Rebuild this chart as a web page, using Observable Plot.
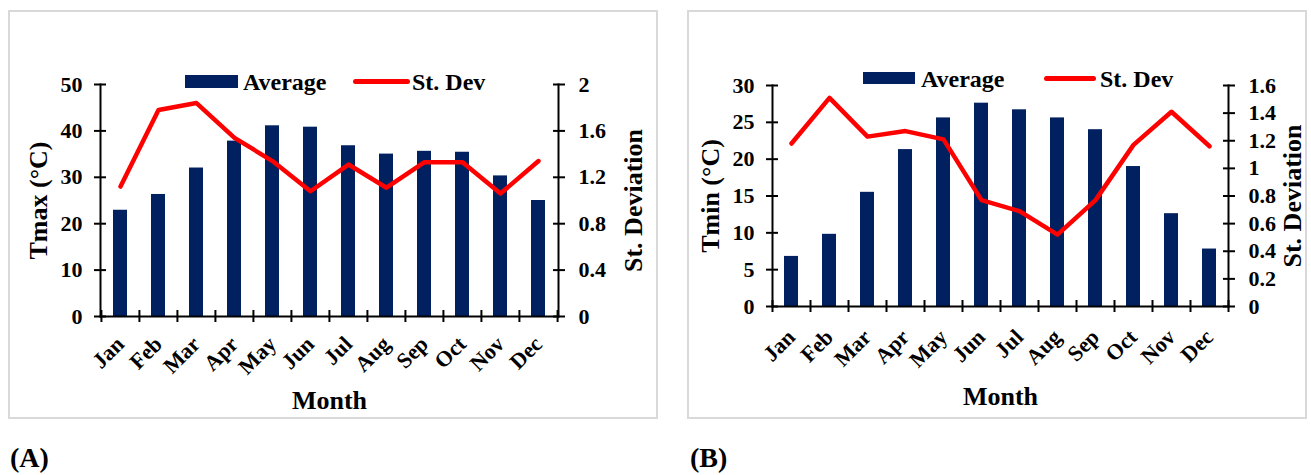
<!DOCTYPE html>
<html>
<head>
<meta charset="utf-8">
<script src="https://cdn.jsdelivr.net/npm/d3@7"></script>
<script src="https://cdn.jsdelivr.net/npm/@observablehq/plot@0.6"></script>
<style>
  html, body { margin: 0; padding: 0; background: #fff; }
  body { position: relative; width: 1311px; height: 475px; overflow: hidden;
         font-family: "Liberation Serif", "Times New Roman", serif; font-weight: bold; color: #000; }
  .panel { position: absolute; border: 2px solid #d9d9d9; box-sizing: border-box; }
  .layer { position: absolute; top: 0; }
  .lg { position: absolute; line-height: 1; font-size: 24px; white-space: nowrap; }
  .sw { position: absolute; }
  .tag { position: absolute; font-size: 28px; line-height: 1; }
</style>
</head>
<body>
<script>
// ---- data ----
const months = ["Jan","Feb","Mar","Apr","May","Jun","Jul","Aug","Sep","Oct","Nov","Dec"];
const tmaxAverage = [22.9, 26.3, 32.0, 37.8, 41.1, 40.8, 36.8, 35.0, 35.6, 35.4, 30.3, 25.0];
const tmaxStDev   = [1.12, 1.78, 1.84, 1.54, 1.34, 1.08, 1.31, 1.11, 1.33, 1.33, 1.06, 1.34];
const tminAverage = [6.8, 9.8, 15.5, 21.3, 25.6, 27.6, 26.7, 25.6, 24.0, 19.0, 12.6, 7.8];
const tminStDev   = [1.18, 1.51, 1.23, 1.27, 1.21, 0.77, 0.69, 0.52, 0.77, 1.17, 1.41, 1.16];
const tmaxTicks   = [0, 10, 20, 30, 40, 50];
const tmaxSdTicks = [0, 0.4, 0.8, 1.2, 1.6, 2];
const tminTicks   = [0, 5, 10, 15, 20, 25, 30];
const tminSdTicks = [0, 0.2, 0.4, 0.6, 0.8, 1, 1.2, 1.4, 1.6];
const seriesNames = ["Average", "St. Dev"];
const axisTitles = {month: "Month", sd: "St. Deviation", tmax: "Tmax (°C)", tmin: "Tmin (°C)"};
const panelTags = ["(A)", "(B)"];

const NAVY = "#002060", RED = "#ff0000";

function el(tag, cls, css, text) {
  const e = document.createElement(tag);
  if (cls) e.className = cls;
  Object.assign(e.style, css || {});
  if (text != null) e.textContent = text;
  document.body.appendChild(e);
  return e;
}

function panel(cfg) {
  const data = months.map((m, i) => ({month: m, avg: cfg.avg[i], sd: cfg.sd[i]}));
  const plotW = cfg.width - cfg.ml - cfg.mr;
  const slot = plotW / months.length;
  const common = {
    width: cfg.width, height: cfg.height,
    marginLeft: cfg.ml, marginRight: cfg.mr, marginTop: cfg.mt, marginBottom: cfg.mb,
    style: {fontFamily: "'Liberation Serif', 'Times New Roman', serif", fontWeight: "bold",
            fontSize: "22px", color: "#000", background: "transparent", overflow: "visible"}
  };
  const base = Plot.plot({
    ...common,
    x: {type: "band", domain: months, paddingInner: 0.62, paddingOuter: 0.31, axis: null},
    y: {domain: cfg.yDomain, axis: null},
    marks: [
      Plot.barY(data, {x: "month", y: "avg", fill: NAVY}),
      Plot.frame({anchor: "left", strokeWidth: 2}),
      Plot.frame({anchor: "bottom", strokeWidth: 2}),
      Plot.axisY(cfg.yTicks, {anchor: "left", tickSize: 12, dx: 6, fill: "none", strokeWidth: 2, label: null}),
      Plot.axisY(cfg.yTicks, {anchor: "left", tickSize: 0, tickPadding: 18, fontSize: 22, label: null, tickFormat: d3.format("~g")}),
      Plot.axisX(months, {anchor: "bottom", tickSize: 12, dy: -6, dx: -slot / 2, fill: "none", strokeWidth: 2, label: null}),
      Plot.axisX([months[months.length - 1]], {anchor: "bottom", tickSize: 12, dy: -6, dx: slot / 2, fill: "none", strokeWidth: 2, label: null}),
      Plot.text(months, {x: d => d, text: d => d, frameAnchor: "bottom", rotate: -45, textAnchor: "end",
                         lineAnchor: "bottom", dx: 5, dy: cfg.labelDy, fontSize: 22}),
      Plot.text([axisTitles.month], {text: d => d, frameAnchor: "bottom", dy: cfg.monthDy, textAnchor: "middle", lineAnchor: "middle", fontSize: 26}),
      Plot.text([cfg.yTitle], {text: d => d, frameAnchor: "left", dx: -62, rotate: -90, textAnchor: "middle", lineAnchor: "middle", fontSize: 26})
    ]
  });
  const over = Plot.plot({
    ...common,
    x: {type: "point", domain: months, padding: 0.5, axis: null},
    y: {domain: cfg.sdDomain, axis: null},
    marks: [
      Plot.frame({anchor: "right", strokeWidth: 2}),
      Plot.axisY(cfg.sdTicks, {anchor: "right", tickSize: 12, dx: -6, fill: "none", strokeWidth: 2, label: null}),
      Plot.axisY(cfg.sdTicks, {anchor: "right", tickSize: 0, tickPadding: 20, fontSize: 22, label: null, tickFormat: d3.format("~g")}),
      Plot.lineY(data, {x: "month", y: "sd", stroke: RED, strokeWidth: 4.5, strokeLinejoin: "round", strokeLinecap: "round"}),
      Plot.text([axisTitles.sd], {text: d => d, frameAnchor: "right", dx: cfg.rightTitleDx, rotate: -90, textAnchor: "middle", lineAnchor: "middle", fontSize: 26})
    ]
  });
  for (const svg of [base, over]) {
    svg.classList.add("layer");
    svg.style.left = cfg.left + "px";
    svg.style.position = "absolute";
    svg.style.top = "0px";
    document.body.appendChild(svg);
  }
  // legend
  const L = cfg.legend;
  el("div", "sw", {left: L.rectX + "px", top: (L.cy - L.rectH / 2) + "px", width: L.rectW + "px", height: L.rectH + "px", background: NAVY});
  el("div", "lg", {left: L.text1X + "px", top: (L.baseline - 20) + "px"}, seriesNames[0]);
  el("div", "sw", {left: L.lineX + "px", top: (L.cy - 2.5) + "px", width: L.lineW + "px", height: "5px", background: RED, borderRadius: "3px"});
  el("div", "lg", {left: L.text2X + "px", top: (L.baseline - 20) + "px"}, seriesNames[1]);
  // tag
  el("div", "tag", {left: cfg.tagX + "px", top: "444px"}, cfg.tag);
}

el("div", "panel", {left: "8px", top: "10px", width: "650px", height: "409px"});
el("div", "panel", {left: "687px", top: "10px", width: "620px", height: "409px"});

panel({
  left: 0, width: 660, height: 418, ml: 100, mr: 102, mt: 84, mb: 102,
  avg: tmaxAverage, sd: tmaxStDev, yDomain: [0, 50], yTicks: tmaxTicks,
  sdDomain: [0, 2], sdTicks: tmaxSdTicks, yTitle: axisTitles.tmax,
  rightTitleDx: 75, monthDy: 84, labelDy: 29,
  legend: {rectX: 185, rectW: 53, rectH: 13, cy: 81.5, text1X: 243, lineX: 353, lineW: 57, text2X: 412, baseline: 90},
  tag: panelTags[0], tagX: 10
});
panel({
  left: 680, width: 631, height: 418, ml: 92, mr: 83, mt: 85, mb: 112,
  avg: tminAverage, sd: tminStDev, yDomain: [0, 30], yTicks: tminTicks,
  sdDomain: [0, 1.6], sdTicks: tminSdTicks, yTitle: axisTitles.tmin,
  rightTitleDx: 64, monthDy: 90, labelDy: 32,
  legend: {rectX: 863, rectW: 52, rectH: 12, cy: 78, text1X: 921, lineX: 1044, lineW: 52, text2X: 1100, baseline: 86.5},
  tag: panelTags[1], tagX: 690
});
</script>
</body>
</html>
